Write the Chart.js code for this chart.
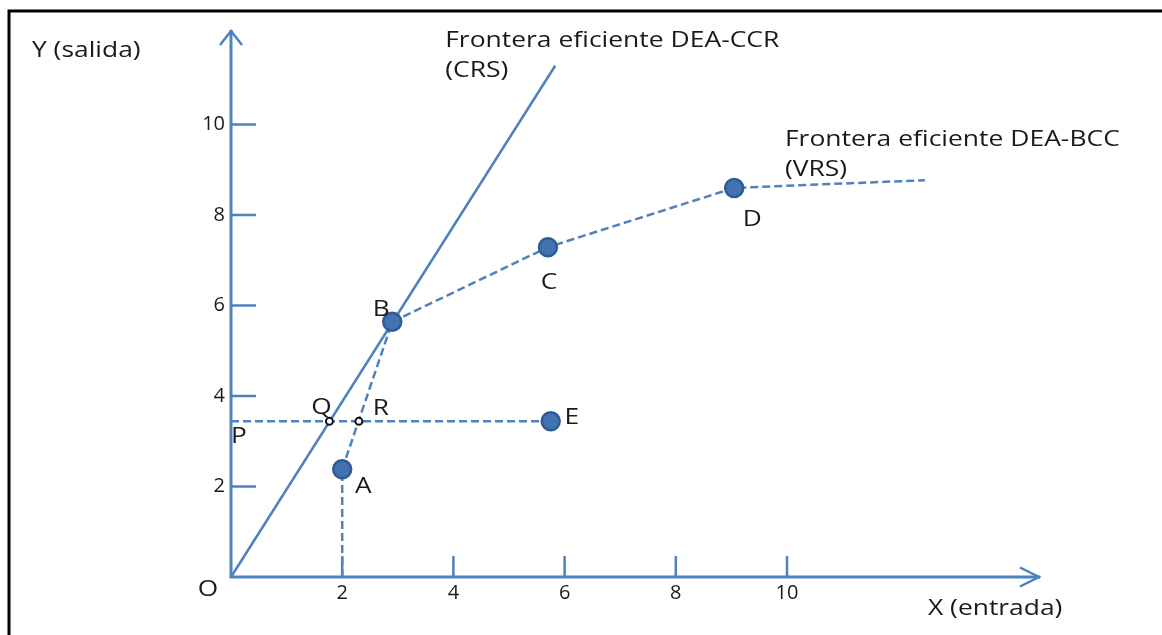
<!DOCTYPE html>
<html>
<head>
<meta charset="utf-8">
<script src="https://cdn.jsdelivr.net/npm/chart.js@4/dist/chart.umd.min.js"></script>
<style>
  html, body { margin: 0; padding: 0; background: #fff; }
  #wrap { position: relative; width: 1162px; height: 635px; }
</style>
</head>
<body>
<div id="wrap"><canvas id="c" width="1162" height="635"></canvas></div>
<script>
// Decision-making units (input x, output y)
const unitNames = ['A', 'B', 'C', 'D', 'E'];
const unitX = [2.0, 2.9, 5.7, 9.05, 5.75];
const unitY = [2.38, 5.64, 7.29, 8.6, 3.44];

// Constant-returns frontier (ray from the origin through B)
const crsX = [0, 5.83];
const crsY = [0, 11.3];

// Variable-returns frontier A-B-C-D and its continuation
const vrsX = [2.0, 2.9, 5.7, 9.05, 12.48];
const vrsY = [2.38, 5.64, 7.29, 8.6, 8.77];

// Projections of E onto both frontiers
const projNames = ['Q', 'R'];
const projX = [1.77, 2.3];
const projY = [3.44, 3.44];

// Output level of E (P on the y axis) and the drop line from A
const levelX = [0, 5.75];
const levelY = [3.44, 3.44];
const dropX = [2, 2];
const dropY = [0, 2.38];

// Axis ticks and extent
const xTicks = [2, 4, 6, 8, 10];
const yTicks = [2, 4, 6, 8, 10];
const xMax = 14.55;
const yMax = 12.09;

const BLUE = '#4f81bd';
const INK = '#1a1a1a';
const FONT = '"Open Sans", "DejaVu Sans", sans-serif';

const pts = (xs, ys) => xs.map((x, i) => ({ x, y: ys[i] }));

// Offsets of the text labels from their anchor points, in pixels
const unitLabelOffset = { A: [21, 18], B: [-11, -12], C: [1, 36], D: [18, 32], E: [21, -3] };
const projLabelOffset = { Q: [-8, -13], R: [22, -12] };

// Text in a wide face: drawn with a horizontal stretch
function wideText(ctx, text, x, y, sx, align) {
  ctx.save();
  ctx.translate(x, y);
  ctx.scale(sx, 1);
  ctx.textAlign = align;
  ctx.fillText(text, 0, 0);
  ctx.restore();
}

const axesPlugin = {
  id: 'axesAndLabels',
  beforeDatasetsDraw(chart) {
    const { ctx } = chart;
    const xs = chart.scales.x, ys = chart.scales.y;
    const x0 = xs.getPixelForValue(0), y0 = ys.getPixelForValue(0);
    const xEnd = xs.getPixelForValue(xMax), yEnd = ys.getPixelForValue(yMax);
    ctx.save();
    ctx.strokeStyle = BLUE;
    ctx.lineWidth = 3;
    ctx.lineCap = 'butt';
    // axes
    ctx.beginPath();
    ctx.moveTo(x0, y0); ctx.lineTo(x0, yEnd);
    ctx.moveTo(x0 - 1.5, y0); ctx.lineTo(xEnd, y0);
    ctx.stroke();
    // arrow heads
    ctx.lineWidth = 2.5;
    ctx.lineJoin = 'miter';
    ctx.beginPath();
    ctx.moveTo(x0 - 11, yEnd + 15); ctx.lineTo(x0, yEnd + 1); ctx.lineTo(x0 + 11, yEnd + 15);
    ctx.moveTo(xEnd - 20, y0 - 9.5); ctx.lineTo(xEnd - 1, y0); ctx.lineTo(xEnd - 20, y0 + 9.5);
    ctx.stroke();
    // tick marks drawn inside the plot
    ctx.lineWidth = 2.5;
    ctx.beginPath();
    xTicks.forEach(v => {
      const px = xs.getPixelForValue(v);
      ctx.moveTo(px, y0); ctx.lineTo(px, y0 - 21);
    });
    yTicks.forEach(v => {
      const py = ys.getPixelForValue(v);
      ctx.moveTo(x0, py); ctx.lineTo(x0 + 25, py);
    });
    ctx.stroke();
    ctx.restore();
  },
  afterDraw(chart) {
    const { ctx } = chart;
    const xs = chart.scales.x, ys = chart.scales.y;
    const px = v => xs.getPixelForValue(v), py = v => ys.getPixelForValue(v);
    ctx.save();
    // frame lines along the top and left edges
    ctx.strokeStyle = '#000';
    ctx.lineWidth = 3;
    ctx.beginPath();
    ctx.moveTo(9, 635); ctx.lineTo(9, 11); ctx.lineTo(1162, 11);
    ctx.stroke();

    ctx.fillStyle = INK;
    ctx.textBaseline = 'middle';
    ctx.font = '21px ' + FONT;
    const LS = 1.25;
    unitNames.forEach((n, i) => {
      const o = unitLabelOffset[n];
      wideText(ctx, n, px(unitX[i]) + o[0], py(unitY[i]) + o[1], LS, 'center');
    });
    projNames.forEach((n, i) => {
      const o = projLabelOffset[n];
      wideText(ctx, n, px(projX[i]) + o[0], py(projY[i]) + o[1], LS, 'center');
    });
    wideText(ctx, 'P', px(levelX[0]) + 8, py(levelY[0]) + 16, LS, 'center');
    wideText(ctx, 'O', px(0) - 23, py(0) + 13, LS, 'center');

    // frontier captions and axis titles
    ctx.textBaseline = 'alphabetic';
    ctx.font = '21px ' + FONT;
    const cx = px(crsX[1]), cy = py(crsY[1]);
    wideText(ctx, 'Frontera eficiente DEA-CCR', cx - 110, cy - 19, 1.26, 'left');
    wideText(ctx, '(CRS)', cx - 110, cy + 11, 1.26, 'left');
    const vx = px(vrsX[4]), vy = py(vrsY[4]);
    wideText(ctx, 'Frontera eficiente DEA-BCC', vx - 140, vy - 34, 1.26, 'left');
    wideText(ctx, '(VRS)', vx - 140, vy - 4, 1.26, 'left');
    ctx.font = '22px ' + FONT;
    wideText(ctx, 'Y (salida)', px(0) - 199, py(yMax) + 27, 1.2, 'left');
    wideText(ctx, 'X (entrada)', px(xMax) - 112, py(0) + 38, 1.2, 'left');
    ctx.restore();
  }
};

const lineStyle = { showLine: true, pointRadius: 0, pointHoverRadius: 0, borderColor: BLUE, borderWidth: 2.5, fill: false, tension: 0, order: 5, clip: false };
const dashed = [8, 4];

new Chart(document.getElementById('c'), {
  type: 'scatter',
  data: {
    datasets: [
      { label: 'DEA-CCR (CRS)', data: pts(crsX, crsY), ...lineStyle },
      { label: 'DEA-BCC (VRS)', data: pts(vrsX, vrsY), ...lineStyle, borderDash: dashed },
      { label: 'Nivel de E', data: pts(levelX, levelY), ...lineStyle, borderDash: dashed },
      { label: 'A-eje', data: pts(dropX, dropY), ...lineStyle, borderDash: dashed },
      {
        label: 'Unidades', data: pts(unitX, unitY), order: 1, clip: false,
        pointRadius: 9, pointHoverRadius: 9, pointBorderWidth: 2.5,
        pointBackgroundColor: '#4272b0', pointBorderColor: '#2f5b94'
      },
      {
        label: 'Proyecciones', data: pts(projX, projY), order: 0, clip: false,
        pointRadius: 3.5, pointHoverRadius: 3.5, pointBorderWidth: 2,
        pointBackgroundColor: '#fff', pointBorderColor: '#111'
      }
    ]
  },
  options: {
    responsive: false,
    animation: false,
    devicePixelRatio: 1,
    layout: { padding: { left: 0, right: 122, top: 30, bottom: 0 } },
    plugins: { legend: { display: false }, tooltip: { enabled: false } },
    events: [],
    scales: {
      x: {
        type: 'linear', min: 0, max: xMax,
        afterBuildTicks: s => { s.ticks = xTicks.map(v => ({ value: v })); },
        afterFit: s => { s.height = 58; },
        grid: { display: false, drawTicks: false },
        border: { display: false },
        ticks: { padding: 4, color: INK, font: { family: FONT, size: 20 }, maxRotation: 0 }
      },
      y: {
        type: 'linear', min: 0, max: yMax,
        afterBuildTicks: s => { s.ticks = yTicks.map(v => ({ value: v })); },
        afterFit: s => { s.width = 231; },
        grid: { display: false, drawTicks: false },
        border: { display: false },
        ticks: { padding: 6, color: INK, font: { family: FONT, size: 20 } }
      }
    }
  },
  plugins: [axesPlugin]
});
</script>
</body>
</html>
